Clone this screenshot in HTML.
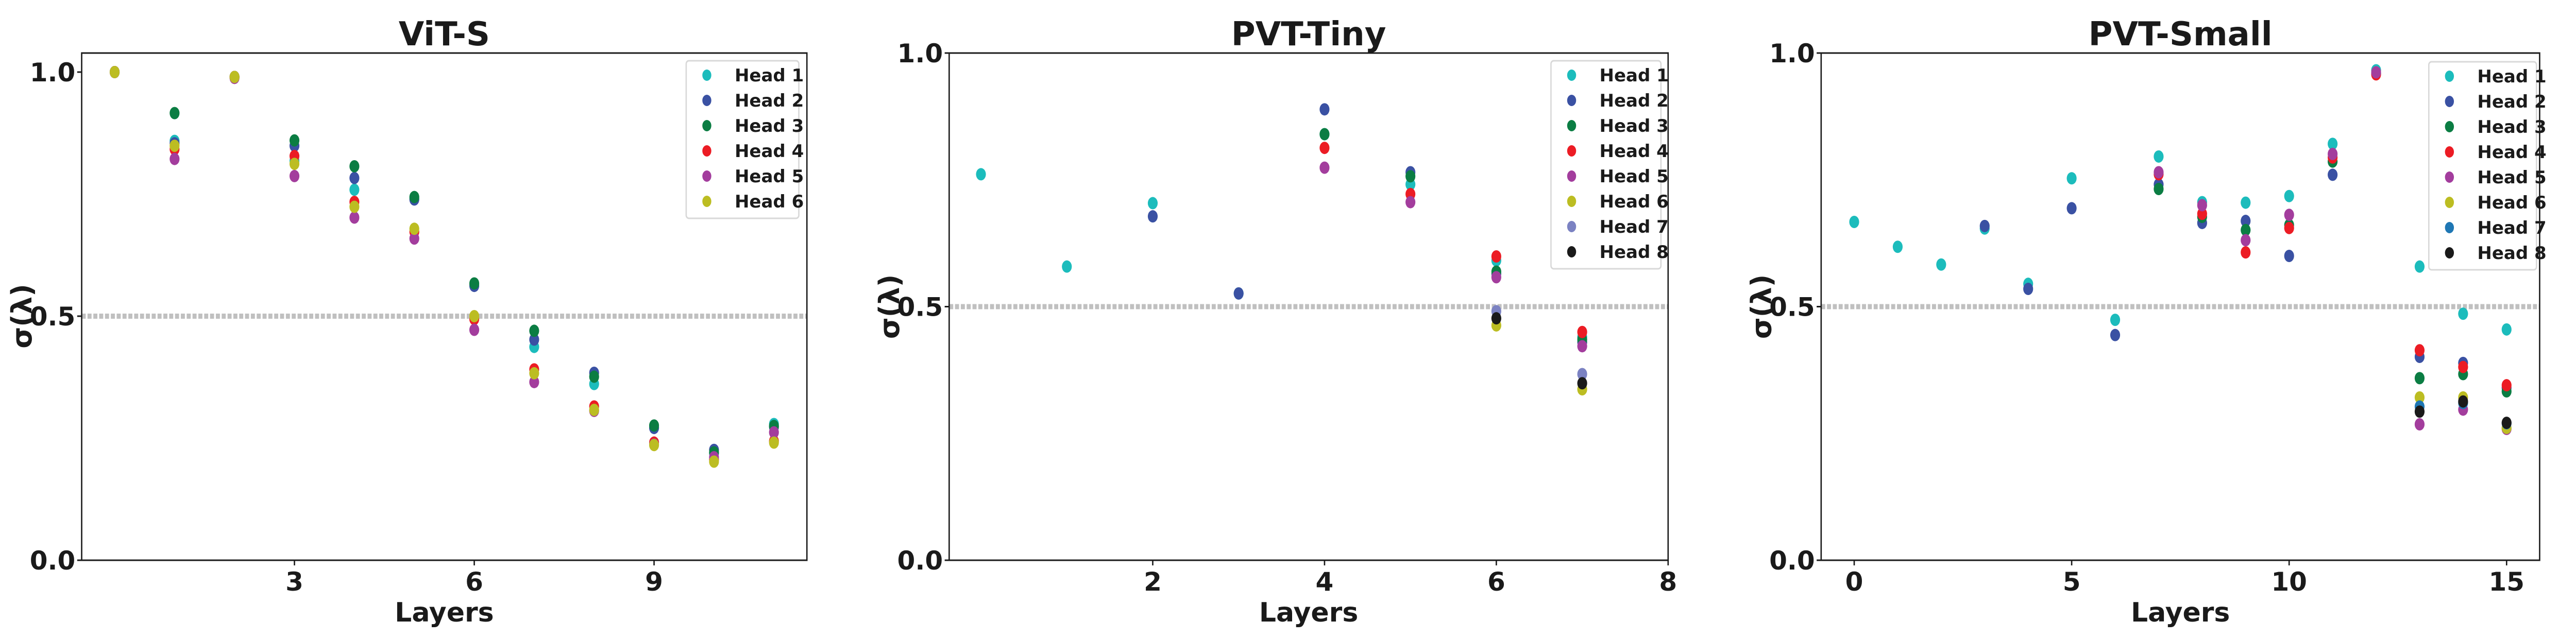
<!DOCTYPE html>
<html><head><meta charset="utf-8">
<style>
html,body{margin:0;padding:0;background:#fff;overflow:hidden;width:100%;height:100%;}
svg{display:block;width:100vw;height:100vh;}
text{font-family:"DejaVu Sans","Liberation Sans",sans-serif;font-weight:bold;fill:#1a1a1a;}
</style></head>
<body>
<svg id="fig" viewBox="0 0 5740 1239" preserveAspectRatio="none" xmlns="http://www.w3.org/2000/svg"></svg>
<script>
const colors1=["#1cbcbc","#3a51a3","#0b7d43","#ec1c24","#a33d9d","#bcbd22"];
const colors2=["#1cbcbc","#3a51a3","#0b7d43","#ec1c24","#a33d9d","#bcbd22","#7b82c2","#1a1a1a"];
const colors3=["#1cbcbc","#3a51a3","#0b7d43","#ec1c24","#a33d9d","#bcbd22","#1f77b4","#1a1a1a"];
const vitLayers=[0,1,2,3,4,5,6,7,8,9,10,11];
const vitH1=[1.0,0.859,0.99,0.818,0.759,0.741,0.565,0.437,0.361,0.273,0.219,0.279];
const vitH2=[1.0,0.854,0.99,0.849,0.783,0.739,0.562,0.452,0.384,0.271,0.226,0.273];
const vitH3=[1.0,0.916,0.99,0.860,0.807,0.744,0.567,0.470,0.376,0.276,0.221,0.275];
const vitH4=[1.0,0.842,0.99,0.828,0.734,0.673,0.494,0.391,0.315,0.241,0.206,0.244];
const vitH5=[1.0,0.822,0.988,0.787,0.702,0.659,0.472,0.365,0.306,0.237,0.211,0.262];
const vitH6=[1.0,0.849,0.99,0.812,0.724,0.679,0.500,0.383,0.308,0.236,0.202,0.241];
const tinyLayers=[0,1,2,3,4,5,6,7];
const tinyH1=[0.761,0.579,0.704,0.526,0.840,0.741,0.591,0.440];
const tinyH2=[null,null,0.678,0.526,0.889,0.765,0.565,0.430];
const tinyH3=[null,null,null,null,0.840,0.757,0.569,0.435];
const tinyH4=[null,null,null,null,0.813,0.722,0.599,0.450];
const tinyH5=[null,null,null,null,0.774,0.706,0.558,0.422];
const tinyH6=[null,null,null,null,null,null,0.463,0.337];
const tinyH7=[null,null,null,null,null,null,0.491,0.367];
const tinyH8=[null,null,null,null,null,null,0.477,0.349];
const smallLayers=[0,1,2,3,4,5,6,7,8,9,10,11,12,13,14,15];
const smallH1=[0.667,0.618,0.583,0.654,0.545,0.753,0.474,0.796,0.706,0.705,0.718,0.821,0.966,0.579,0.486,0.455];
const smallH2=[null,null,null,0.659,0.535,0.694,0.444,0.741,0.665,0.669,0.600,0.760,0.960,0.401,0.389,0.340];
const smallH3=[null,null,null,null,null,null,null,0.732,0.677,0.651,0.661,0.786,0.960,0.359,0.367,0.333];
const smallH4=[null,null,null,null,null,null,null,0.761,0.683,0.607,0.655,0.794,0.958,0.414,0.381,0.345];
const smallH5=[null,null,null,null,null,null,null,0.765,0.700,0.631,0.681,0.801,0.962,0.268,0.297,0.259];
const smallH6=[null,null,null,null,null,null,null,null,null,null,null,null,null,0.321,0.321,0.261];
const smallH7=[null,null,null,null,null,null,null,null,null,null,null,null,null,0.303,0.310,0.270];
const smallH8=[null,null,null,null,null,null,null,null,null,null,null,null,null,0.293,0.313,0.271];
const vitXTicks=[3,6,9];
const tinyXTicks=[2,4,6,8];
const smallXTicks=[0,5,10,15];
const yTicks=[0.0,0.5,1.0];
const headNames=["Head 1","Head 2","Head 3","Head 4","Head 5","Head 6","Head 7","Head 8"];

const NS="http://www.w3.org/2000/svg";
const svg=document.getElementById('fig');
function mk(tag,attrs,parent){const e=document.createElementNS(NS,tag);for(const k in attrs)e.setAttribute(k,attrs[k]);(parent||svg).appendChild(e);return e;}
const sx=(window.innerWidth/5740)||1, sy=(window.innerHeight/1239)||1;
const K=sy/sx;
function txt(x,y,str,size,anchor,parent,rot){
  const tf=rot?`translate(${x},${y}) scale(${K},1) rotate(-90)`:`translate(${x},${y}) scale(${K},1)`;
  const e=mk('text',{x:0,y:0,'font-size':size,'text-anchor':anchor||'start',transform:tf},parent);
  e.textContent=str;return e;
}

const panels=[
 {key:'vit',title:'ViT-S',L:182,R:1798,xmin:-0.55,xmax:11.55,ymax:1.039,layers:vitLayers,series:[vitH1,vitH2,vitH3,vitH4,vitH5,vitH6],colors:colors1,xt:vitXTicks,leg:[1529,118,251]},
 {key:'tiny',title:'PVT-Tiny',L:2115,R:3717,xmin:-0.37,xmax:8,ymax:1.0,layers:tinyLayers,series:[tinyH1,tinyH2,tinyH3,tinyH4,tinyH5,tinyH6,tinyH7,tinyH8],colors:colors2,xt:tinyXTicks,leg:[3456,118,245]},
 {key:'small',title:'PVT-Small',L:4058,R:5659,xmin:-0.76,xmax:15.76,ymax:1.0,layers:smallLayers,series:[smallH1,smallH2,smallH3,smallH4,smallH5,smallH6,smallH7,smallH8],colors:colors3,xt:smallXTicks,leg:[5412,120,240]}
];
const T=103,B=1088;
panels.forEach(p=>{
  const g=mk('g',{});
  
  
  const xs=v=>p.L+(v-p.xmin)/(p.xmax-p.xmin)*(p.R-p.L);
  const ys=v=>B-v/p.ymax*(B-T);
  const t=txt((p.L+p.R)/2,88,p.title,64,'middle',g);
  
  
  const rl=mk('line',{x1:p.L,x2:p.R,y1:ys(0.5),y2:ys(0.5),stroke:'#c0c0c0','stroke-width':10,'stroke-dasharray':'9 4'},g);
  
  
  p.series.forEach((s,hi)=>{
    s.forEach((v,i)=>{
      if(v===null)return;
      const c=mk('ellipse',{cx:xs(p.layers[i]),cy:ys(v),rx:11,ry:12,fill:p.colors[hi]},g);
      
      
    });
  });
  const fr=mk('rect',{x:p.L,y:T,width:p.R-p.L,height:B-T,fill:'none',stroke:'#1a1a1a','stroke-width':3},g);
  
  
  yTicks.forEach(v=>{
    mk('line',{x1:p.L-10,x2:p.L,y1:ys(v),y2:ys(v),stroke:'#1a1a1a','stroke-width':3},g);
    const tl=txt(p.L-14,ys(v)+18,v.toFixed(1),50,'end',g);
    
    
  });
  p.xt.forEach(v=>{
    mk('line',{x1:xs(v),x2:xs(v),y1:B,y2:B+10,stroke:'#1a1a1a','stroke-width':3},g);
    const tl=txt(xs(v),1147,String(v),50,'middle',g);
    
    
  });
  const xl=txt((p.L+p.R)/2,1207,'Layers',52,'middle',g);
  
  
  const yl=txt(p.L-112,ys(0.5),'σ(λ)',54,'middle',g,true);
  
  
  const [lx,ly,lw]=p.leg;const n=p.series.length;
  const lg=mk('g',{},g);
  
  
  mk('rect',{x:lx,y:ly,width:lw,height:n*49+12,rx:6,fill:'#fff','fill-opacity':0.85,stroke:'#d8d8d8','stroke-width':3},lg);
  for(let h=0;h<n;h++){
    const cy=ly+28+h*49;
    const e=mk('g',{},lg);
    
    
    mk('ellipse',{cx:lx+46,cy:cy,rx:10,ry:11,fill:p.colors[h]},e);
    txt(lx+108,cy+12,headNames[h],34,'start',e);
  }
});
</script>
</body></html>
